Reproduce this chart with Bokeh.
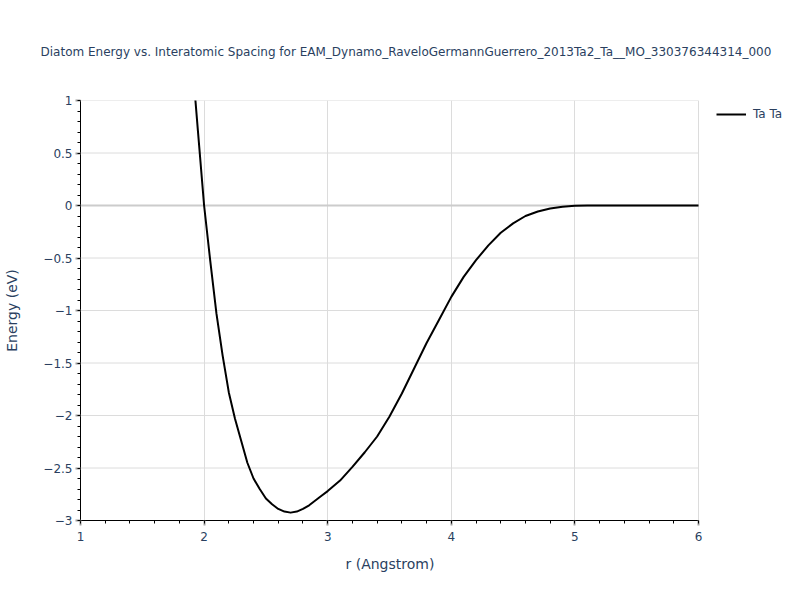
import numpy as np
from bokeh.plotting import figure
from bokeh.models import Legend, LegendItem, FixedTicker, Range1d, ColumnDataSource, Title
from bokeh.embed import file_html
from bokeh.resources import INLINE

title_text = "Diatom Energy vs. Interatomic Spacing for EAM_Dynamo_RaveloGermannGuerrero_2013Ta2_Ta__MO_330376344314_000"
series_name = "Ta Ta"
x_label = "r (Angstrom)"
y_label = "Energy (eV)"

r_values = [1.9, 1.95, 2.0, 2.05, 2.1, 2.15, 2.2, 2.25, 2.3, 2.35, 2.4, 2.45, 2.5, 2.55,
            2.6, 2.65, 2.7, 2.75, 2.8, 2.85, 2.9, 2.95, 3.0, 3.1, 3.2, 3.3,
            3.4, 3.5, 3.6, 3.7, 3.8, 3.9, 4.0, 4.1, 4.2, 4.3, 4.4, 4.5, 4.6, 4.7,
            4.8, 4.9, 5.0, 5.1, 5.2, 5.3, 5.4, 5.5, 5.6, 5.7, 5.8, 5.9, 6.0]
energy_values = [1.43, 0.71, 0.0, -0.53, -1.03, -1.43, -1.78, -2.03, -2.24, -2.45,
                 -2.60, -2.70, -2.79, -2.845, -2.89, -2.915, -2.925, -2.915, -2.89,
                 -2.855, -2.81, -2.765, -2.72, -2.62, -2.49, -2.35, -2.20, -2.01,
                 -1.79, -1.55, -1.31, -1.09, -0.87, -0.68, -0.52, -0.38, -0.26, -0.17,
                 -0.10, -0.057, -0.029, -0.012, -0.003, -0.001, 0.0, 0.0, 0.0, 0.0,
                 0.0, 0.0, 0.0, 0.0, 0.0]

x_min, x_max = 1, 6
y_min, y_max = -3, 1
x_ticks = [1, 2, 3, 4, 5, 6]
x_tick_labels = ["1", "2", "3", "4", "5", "6"]
y_ticks = [-3, -2.5, -2, -1.5, -1, -0.5, 0, 0.5, 1]
y_tick_labels = ["\u22123", "\u22122.5", "\u22122", "\u22121.5", "\u22121", "\u22120.5", "0", "0.5", "1"]

TEXT = "#2a3f5f"
FONT = "DejaVu Sans"
GRID = "#dcdcdc"

# plot area is 618 px for the 1..6 span; the frame extends to the page edge to hold the legend
FIG_W, FIG_H = 784, 584
LEFT, PLOT_W = 80, 618
x_extra = (FIG_W - LEFT - PLOT_W) / PLOT_W * (x_max - x_min)

p = figure(width=FIG_W, height=FIG_H, output_backend="svg", toolbar_location=None,
           x_range=Range1d(x_min, x_max + x_extra), y_range=Range1d(y_min, y_max),
           min_border_left=LEFT, min_border_right=0, min_border_top=100, min_border_bottom=64)
p.outline_line_color = None
p.background_fill_color = "white"

# horizontal grid lines limited to the 1..6 span
p.ygrid.visible = False
p.segment(x0=[x_min] * len(y_ticks), x1=[x_max] * len(y_ticks), y0=y_ticks, y1=y_ticks,
          line_color=GRID, line_width=1)
p.segment(x0=[x_min], x1=[x_max], y0=[0], y1=[0], line_color="#cccccc", line_width=2)

src = ColumnDataSource(dict(r=r_values, e=energy_values))
line = p.line("r", "e", source=src, line_color="black", line_width=2, line_join="round")

p.xaxis.ticker = FixedTicker(ticks=x_ticks, minor_ticks=list(np.round(np.arange(1, 6.001, 0.2), 2)))
p.yaxis.ticker = FixedTicker(ticks=y_ticks, minor_ticks=list(np.round(np.arange(-3, 1.001, 0.1), 2)))
p.xaxis.major_label_overrides = {t: s for t, s in zip(x_ticks, x_tick_labels)}
p.yaxis.major_label_overrides = {t: s for t, s in zip(y_ticks, y_tick_labels)}
p.xaxis.bounds = (x_min, x_max)

for ax in (p.xaxis[0], p.yaxis[0]):
    ax.axis_line_color = "black"
    ax.axis_line_width = 1
    ax.major_tick_line_color = "#a0a0a0"
    ax.major_tick_line_width = 2
    ax.major_tick_out = 5
    ax.major_tick_in = 0
    ax.minor_tick_line_color = "black"
    ax.minor_tick_out = 3
    ax.minor_tick_in = 0
    ax.major_label_text_color = TEXT
    ax.major_label_text_font = FONT
    ax.major_label_text_font_size = "12px"
    ax.axis_label_text_color = TEXT
    ax.axis_label_text_font = FONT
    ax.axis_label_text_font_size = "14px"
    ax.axis_label_text_font_style = "normal"

p.yaxis.axis_label = y_label
p.xaxis.major_label_standoff = 6
p.yaxis.major_label_standoff = 3
p.yaxis.axis_label_standoff = 20

# x-axis title centred under the 1..6 span
p.add_layout(Title(text=x_label, align="left", offset=265, standoff=20,
                   text_font=FONT, text_font_size="14px", text_font_style="normal",
                   text_color=TEXT), "below")

p.xgrid.grid_line_color = GRID

p.title.text = title_text
p.title.text_font = FONT
p.title.text_font_size = "12px"
p.title.text_font_style = "normal"
p.title.text_color = TEXT
p.title.align = "left"
p.title.offset = -40
p.title.standoff = 84

legend = Legend(items=[LegendItem(label=series_name, renderers=[line])],
                location=(PLOT_W + 18, 399), margin=0, padding=0,
                glyph_width=30, glyph_height=14, label_height=14,
                label_standoff=7, border_line_color=None, background_fill_alpha=0,
                label_text_font=FONT, label_text_font_size="12px", label_text_color=TEXT)
p.add_layout(legend, "center")

open("out.html", "w").write(file_html(p, INLINE))
